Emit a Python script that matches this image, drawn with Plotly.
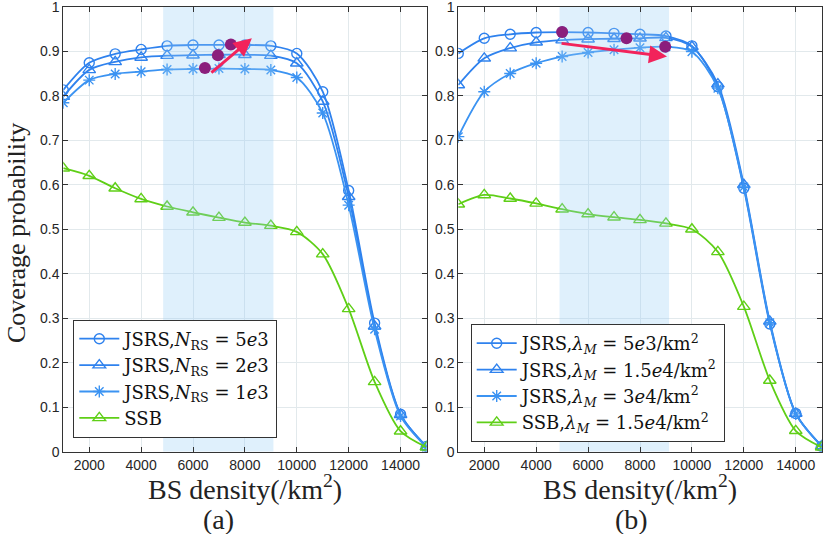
import plotly.graph_objects as go

# ---------------- data ----------------
bs_density = [1000, 2000, 3000, 4000, 5000, 6000, 7000, 8000, 9000, 10000, 11000, 12000, 13000, 14000, 15000]

# (a) different N_RS
a_jsrs_5e3 = [0.813, 0.874, 0.894, 0.904, 0.912, 0.914, 0.914, 0.914, 0.912, 0.895, 0.809, 0.587, 0.289, 0.084, 0.012]
a_jsrs_2e3 = [0.798, 0.858, 0.876, 0.886, 0.890, 0.891, 0.892, 0.892, 0.890, 0.873, 0.787, 0.573, 0.282, 0.083, 0.011]
a_jsrs_1e3 = [0.784, 0.835, 0.849, 0.854, 0.859, 0.860, 0.861, 0.860, 0.858, 0.841, 0.761, 0.554, 0.275, 0.080, 0.010]
a_ssb = [0.637, 0.620, 0.592, 0.568, 0.551, 0.538, 0.526, 0.515, 0.508, 0.494, 0.444, 0.321, 0.157, 0.046, 0.010]

# (b) different lambda_M
b_jsrs_5e3 = [0.895, 0.929, 0.938, 0.942, 0.943, 0.942, 0.940, 0.938, 0.934, 0.912, 0.820, 0.592, 0.287, 0.086, 0.012]
b_jsrs_15e3 = [0.824, 0.884, 0.907, 0.920, 0.925, 0.927, 0.928, 0.929, 0.930, 0.910, 0.826, 0.600, 0.293, 0.086, 0.013]
b_jsrs_3e4 = [0.708, 0.809, 0.850, 0.873, 0.888, 0.897, 0.903, 0.908, 0.910, 0.899, 0.817, 0.595, 0.290, 0.085, 0.012]
b_ssb = [0.556, 0.577, 0.569, 0.558, 0.545, 0.534, 0.527, 0.521, 0.513, 0.500, 0.449, 0.326, 0.160, 0.047, 0.010]

# highlighted optimum points
a_opt_x = [6460, 6960, 7460]
a_opt_y = [0.862, 0.891, 0.915]
b_opt_x = [5000, 7480, 8970]
b_opt_y = [0.943, 0.929, 0.910]

# trend arrows: tail -> head
a_arrow_x = [6650, 8270]
a_arrow_y = [0.849, 0.929]
b_arrow_x = [4920, 9040]
b_arrow_y = [0.918, 0.888]

# shaded ranges
a_band = [4850, 9100]
b_band = [4900, 9120]

x_ticks = [2000, 4000, 6000, 8000, 10000, 12000, 14000]
x_ticktext = ["2000", "4000", "6000", "8000", "10000", "12000", "14000"]
y_ticks = [0, 0.1, 0.2, 0.3, 0.4, 0.5, 0.6, 0.7, 0.8, 0.9, 1]
y_ticktext = ["0", "0.1", "0.2", "0.3", "0.4", "0.5", "0.6", "0.7", "0.8", "0.9", "1"]

a_names = ["JSRS,<i>N</i><sub>RS</sub> = 5<i>e</i>3",
           "JSRS,<i>N</i><sub>RS</sub> = 2<i>e</i>3",
           "JSRS,<i>N</i><sub>RS</sub> = 1<i>e</i>3",
           "SSB"]
b_names = ["JSRS,<i>λ<sub>M</sub></i> = 5<i>e</i>3/km<sup>2</sup>",
           "JSRS,<i>λ<sub>M</sub></i> = 1.5<i>e</i>4/km<sup>2</sup>",
           "JSRS,<i>λ<sub>M</sub></i> = 3<i>e</i>4/km<sup>2</sup>",
           "SSB,<i>λ<sub>M</sub></i> = 1.5<i>e</i>4/km<sup>2</sup>"]

# ---------------- style ----------------
W, H = 830, 534
BLUE = "#2f82ee"
BLUE2 = "#3b93f2"
GREEN = "#5fcf17"
PURPLE = "#8b1e7c"
RED = "#f2235b"
SERIF = "Liberation Serif"
LEG_SERIF = "DejaVu Serif"
SANS = "Liberation Sans"

fig = go.Figure()

def add_panel(xa, ya, legend, series, names, band, opt_x, opt_y):
    colors = [BLUE, BLUE, BLUE2, GREEN]
    symbols = ["circle-open", "triangle-up-open", "asterisk-open", "triangle-up-open"]
    sizes = [10, 11, 10, 11]
    for s, n, c, sym, sz in zip(series, names, colors, symbols, sizes):
        fig.add_trace(go.Scatter(
            x=bs_density, y=s, name=n, mode="lines+markers",
            line=dict(color=c, width=1.8, shape="spline", smoothing=0.8),
            marker=dict(symbol=sym, size=sz, color=c, line=dict(color=c, width=1.4)),
            xaxis=xa, yaxis=ya, legend=legend, showlegend=True))
    # shaded band (drawn above curves, semi transparent)
    fig.add_trace(go.Scatter(
        x=[band[0], band[1], band[1], band[0], band[0]], y=[0, 0, 1, 1, 0],
        mode="lines", fill="toself", fillcolor="rgba(150,205,245,0.30)",
        line=dict(width=0), hoverinfo="skip", showlegend=False, xaxis=xa, yaxis=ya))
    fig.add_trace(go.Scatter(
        x=opt_x, y=opt_y, mode="markers",
        marker=dict(symbol="circle", size=12, color=PURPLE),
        showlegend=False, xaxis=xa, yaxis=ya))

add_panel("x", "y", "legend", [a_jsrs_5e3, a_jsrs_2e3, a_jsrs_1e3, a_ssb], a_names, a_band, a_opt_x, a_opt_y)
add_panel("x2", "y2", "legend2", [b_jsrs_5e3, b_jsrs_15e3, b_jsrs_3e4, b_ssb], b_names, b_band, b_opt_x, b_opt_y)

def px_x(p):
    return p / W

def px_y(p):
    return 1 - p / H

axis_common = dict(
    showgrid=True, gridcolor="#e2e9ec", gridwidth=1,
    showline=True, linecolor="#333333", linewidth=1, mirror="ticks",
    ticks="inside", ticklen=5, tickcolor="#333333",
    tickfont=dict(family=SANS, size=14, color="#262626"),
    zeroline=False, automargin=False, ticklabeloverflow="allow",
)

leg_common = dict(xanchor="left", yanchor="top",
                  bgcolor="white", bordercolor="#333333", borderwidth=1,
                  font=dict(family=LEG_SERIF, size=18, color="#111111"),
                  itemwidth=40, tracegroupgap=0)

fig.update_layout(
    width=W, height=H,
    margin=dict(l=0, r=0, t=0, b=0),
    paper_bgcolor="white", plot_bgcolor="white",
    xaxis=dict(domain=[px_x(63.3), px_x(426.5)], range=[1000, 15000],
               tickvals=x_ticks, ticktext=x_ticktext, anchor="y", **axis_common),
    yaxis=dict(domain=[px_y(451.7), px_y(6.7)], range=[0, 1],
               tickvals=y_ticks, ticktext=y_ticktext, anchor="x", **axis_common),
    xaxis2=dict(domain=[px_x(458.3), px_x(821.7)], range=[1000, 15000],
                tickvals=x_ticks, ticktext=x_ticktext, anchor="y2", **axis_common),
    yaxis2=dict(domain=[px_y(451.7), px_y(6.7)], range=[0, 1],
                tickvals=y_ticks, ticktext=y_ticktext, anchor="x2", **axis_common),
    legend=dict(x=px_x(73.3), y=px_y(319.5), **leg_common),
    legend2=dict(x=px_x(470.7), y=px_y(324), **leg_common),
    showlegend=True,
)

annotations = []
for xr, yr, ax_x, ax_y in [("x", "y", a_arrow_x, a_arrow_y), ("x2", "y2", b_arrow_x, b_arrow_y)]:
    annotations.append(dict(
        x=ax_x[1], y=ax_y[1], ax=ax_x[0], ay=ax_y[0],
        xref=xr, yref=yr, axref=xr, ayref=yr,
        text="", showarrow=True, arrowhead=2, arrowsize=1.2, arrowwidth=3, arrowcolor=RED))

title_font = dict(family=SERIF, size=26, color="#222222")
xt_font = dict(family=SERIF, size=28, color="#222222")
annotations += [
    dict(text="Coverage probability", x=px_x(16), y=px_y(233), xref="paper", yref="paper",
         showarrow=False, textangle=-90, font=title_font, xanchor="center", yanchor="middle"),
    dict(text="BS density(/km<sup>2</sup>)", x=px_x(245), y=px_y(487), xref="paper", yref="paper",
         showarrow=False, font=xt_font, xanchor="center", yanchor="middle"),
    dict(text="BS density(/km<sup>2</sup>)", x=px_x(640), y=px_y(487), xref="paper", yref="paper",
         showarrow=False, font=xt_font, xanchor="center", yanchor="middle"),
    dict(text="(a)", x=px_x(218), y=px_y(519), xref="paper", yref="paper",
         showarrow=False, font=xt_font, xanchor="center", yanchor="middle"),
    dict(text="(b)", x=px_x(631), y=px_y(519), xref="paper", yref="paper",
         showarrow=False, font=xt_font, xanchor="center", yanchor="middle"),
]
fig.update_layout(annotations=annotations)

fig.write_html("out.html", config={"displayModeBar": False},
               post_script="document.body.style.margin='0';document.body.style.overflow='hidden';")
